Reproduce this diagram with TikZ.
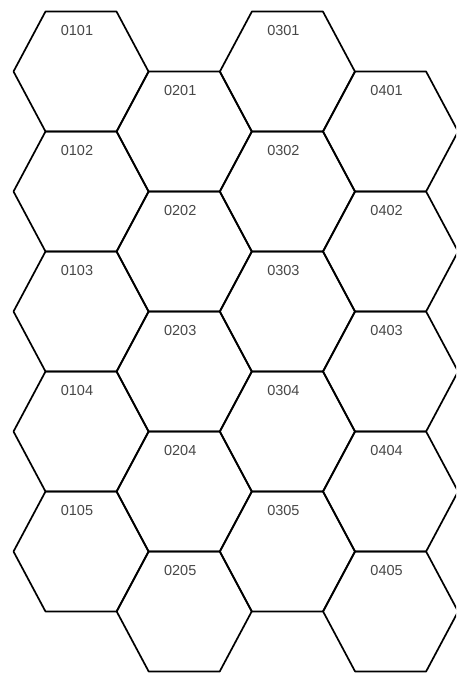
\documentclass[tikz,border=0pt]{standalone}
\usepackage{fontspec}
\setmainfont{Liberation Sans}
\begin{document}
\begin{tikzpicture}[x=1pt,y=-1pt,
  hexline/.style={line width=1.7pt, line join=round},
  hexlabel/.style={font=\fontsize{14.5}{14.5}\selectfont, text=black!72, inner sep=0pt}]
\useasboundingbox (0,0) rectangle (456,673);
\clip (0,0) rectangle (456,673);
\foreach \c in {1,...,4} {
  \foreach \r in {1,...,5} {
    \pgfmathsetmacro\cx{81+103.2*(\c-1)}
    \pgfmathsetmacro\cy{71.5+120*(\r-1)+60*(1-mod(\c,2))}
    \draw[hexline] (\cx-35.5,\cy-60) -- (\cx+35.5,\cy-60) -- (\cx+67.5,\cy)
      -- (\cx+35.5,\cy+60) -- (\cx-35.5,\cy+60) -- (\cx-67.5,\cy) -- cycle;
    \node[hexlabel] (h0\c0\r) at (\cx-4,\cy-41) {0\c0\r};
  }
}
\end{tikzpicture}
\end{document}
